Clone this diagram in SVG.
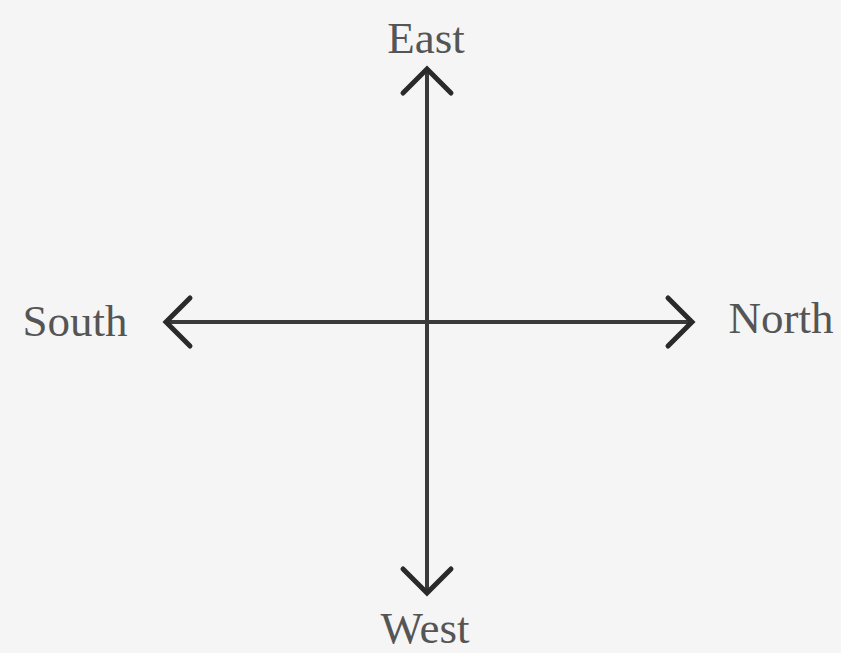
<svg xmlns="http://www.w3.org/2000/svg" width="841" height="653" viewBox="0 0 841 653">
<style>
.ln{stroke:#3a3a3a;stroke-width:4;fill:none;stroke-linecap:round;stroke-linejoin:round}
.hd{stroke:#2a2a2a;stroke-width:5;fill:none;stroke-linecap:round;stroke-linejoin:miter}
.lbl{font-family:"Liberation Serif","Times New Roman",serif;font-size:45px;fill:#555;text-anchor:middle}
</style>
<rect width="841" height="653" fill="#f5f5f5"/>
<g id="connectors">
<line class="ln" x1="427" y1="70" x2="427" y2="590"/>
<line class="ln" x1="168" y1="322" x2="690" y2="322"/>
<polyline class="hd" points="403,93 427,69 451,93"/>
<polyline class="hd" points="403,569 427,593 451,569"/>
<polyline class="hd" points="190,298 166,322 190,346"/>
<polyline class="hd" points="668,298 692,322 668,346"/>
</g>
<g id="east"><text class="lbl" x="426" y="53">East</text></g>
<g id="south"><text class="lbl" x="75" y="336">South</text></g>
<g id="north"><text class="lbl" x="781" y="333">North</text></g>
<g id="west"><text class="lbl" x="425" y="643">West</text></g>
</svg>
